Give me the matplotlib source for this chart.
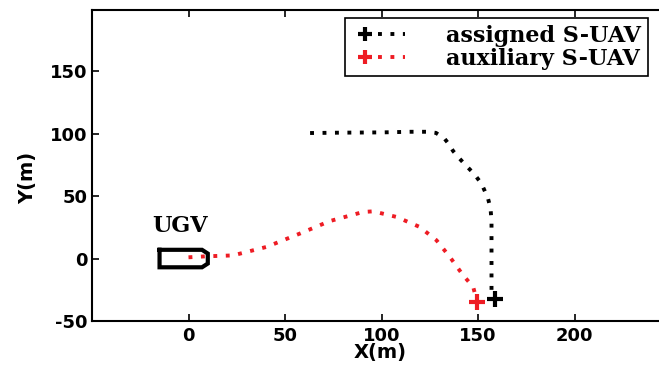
import matplotlib
matplotlib.use("Agg")
import matplotlib.pyplot as plt
from matplotlib.lines import Line2D
from matplotlib.legend_handler import HandlerTuple

plt.rcParams["axes.unicode_minus"] = False

# Bahn des zugewiesenen S-UAV
assigned_x = [63, 80, 100, 115, 124, 128.2, 132.4, 135, 137.1, 139.7, 143.2, 146.6, 149.2,
              151.8, 153.5, 155.2, 156.1, 156.6, 157, 157, 157, 157, 159]
assigned_y = [100.5, 100.8, 101, 101.5, 101.5, 100.6, 96.5, 91.4, 86.1, 81.3, 75.4, 70, 65.3,
              60, 54.1, 48, 42.6, 38, 30, 10, -10, -25.4, -32.5]

# Bahn des Hilfs-S-UAV
auxiliary_x = [0, 9.3, 23, 40.4, 57.7, 73.2, 90.5, 95.7, 107.8, 119.8, 128.5, 135.4, 142.3, 147.5, 149.5]
auxiliary_y = [1, 1.8, 2.5, 9.3, 20, 30, 37.3, 37.8, 33.3, 25.3, 14.6, 1.3, -13.4, -22.7, -34.5]

# Umriss des UGV
ugv_x = [-15, 7, 10, 10, 7, -15, -15]
ugv_y = [7, 7, 4, -4, -7, -7, 7]

xticks = [0, 50, 100, 150, 200]
yticks = [-50, 0, 50, 100, 150]

fig = plt.figure(figsize=(6.59, 3.67), dpi=100)
ax = fig.add_axes([92/659, 46/367, 579/659, 311/367])

dots = (1, 2.2)
ax.plot(ugv_x, ugv_y, color="black", lw=3, solid_joinstyle="miter")
ax.plot(assigned_x, assigned_y, color="black", lw=2.8, dashes=dots)
ax.plot(auxiliary_x, auxiliary_y, color="#ee1c24", lw=2.8, dashes=dots)
ax.plot(assigned_x[-1], assigned_y[-1], "+", color="black", ms=11, mew=3)
ax.plot(auxiliary_x[-1], auxiliary_y[-1], "+", color="#ee1c24", ms=11, mew=3)

ax.text(-4.5, 26, "UGV", family="DejaVu Serif", fontweight="bold", fontsize=16,
        ha="center", va="center")

ax.set_xlim(-50, 250)
ax.set_ylim(-50, 199)
ax.set_xticks(xticks)
ax.set_yticks(yticks)
ax.tick_params(direction="in", length=5, width=1.2, top=True, labelsize=13)
ax.tick_params(axis="x", pad=4)
for lab in ax.get_xticklabels() + ax.get_yticklabels():
    lab.set_fontweight("bold")
for s in ax.spines.values():
    s.set_linewidth(1.5)
ax.set_xlabel("X(m)", fontsize=14, fontweight="bold")
ax.set_ylabel("Y(m)", fontsize=14, fontweight="bold")
ax.xaxis.set_label_coords((380 - 92) / 579, (321 - 343) / 311)
ax.yaxis.set_label_coords((37 - 92) / 579, (321 - 178) / 311)

# Legende: Kreuz vorne, danach gepunktete Linie
h1 = (Line2D([], [], color="black", marker="+", ms=10, mew=3, ls="none"),
      Line2D([], [], color="black", lw=2.8, dashes=dots))
h2 = (Line2D([], [], color="#ee1c24", marker="+", ms=10, mew=3, ls="none"),
      Line2D([], [], color="#ee1c24", lw=2.8, dashes=dots))
leg = fig.legend([h1, h2], ["assigned S-UAV", "auxiliary S-UAV"],
                 handler_map={tuple: HandlerTuple(ndivide=None, pad=0)},
                 loc="upper left", bbox_to_anchor=(345/659, 1 - 18/367),
                 prop={"family": "DejaVu Serif", "weight": "bold", "size": 16},
                 handlelength=2.4, handletextpad=1.85, labelspacing=0.05,
                 borderaxespad=0, borderpad=0.3, fancybox=False, framealpha=1)
leg.get_frame().set_edgecolor("black")
leg.get_frame().set_linewidth(1.2)

fig.savefig("out.png", dpi=100)
